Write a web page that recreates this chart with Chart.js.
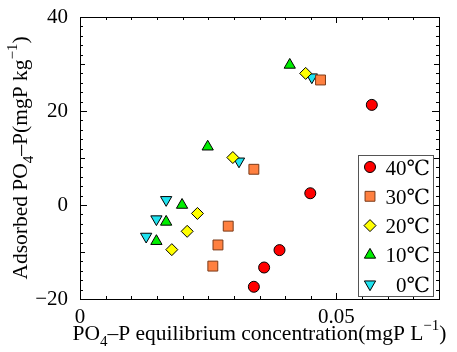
<!DOCTYPE html>
<html>
<head>
<meta charset="utf-8">
<script src="https://cdn.jsdelivr.net/npm/chart.js@4.4.0/dist/chart.umd.min.js"></script>
<style>
  html, body { margin:0; padding:0; background:#fff; }
  #wrap { width:457px; height:352px; }
</style>
</head>
<body>
<div id="wrap"><canvas id="chart"></canvas></div>
<script>
// data
const seriesNames = ['40℃', '30℃', '20℃', '10℃', '0℃'];
const x40 = [0.0339, 0.0359, 0.0389, 0.0449, 0.0569];
const y40 = [-17.4, -13.3, -9.6, 2.5, 21.3];
const x30 = [0.0259, 0.0269, 0.0289, 0.0339, 0.0469];
const y30 = [-13.0, -8.5, -4.5, 7.6, 26.6];
const x20 = [0.0179, 0.0209, 0.0229, 0.0298, 0.0440];
const y20 = [-9.5, -5.6, -1.8, 10.1, 28.0];
const x10 = [0.0149, 0.0168, 0.0199, 0.0249, 0.0409];
const y10 = [-7.7, -3.6, 0.0, 12.4, 29.8];
const x0 = [0.0129, 0.0149, 0.0168, 0.0310, 0.0452];
const y0 = [-6.7, -3.0, 1.1, 9.3, 27.2];
const xTickVals = [0, 0.05];
const yTickVals = [-20, 0, 20, 40];

const SERIF = "'Liberation Serif', 'DejaVu Serif', serif";
const DEG = "'DejaVu Serif', serif";

function pts(xs, ys){ return xs.map((x, i) => ({x, y: ys[i]})); }

const styles = [
  { pointStyle:'circle',   radius:5.5, rotation:0,   bg:'#ff0000', border:'#000000' },
  { pointStyle:'rect',     radius:7,   rotation:0,   bg:'#ff8040', border:'#7a3a18' },
  { pointStyle:'rectRot',  radius:6,   rotation:0,   bg:'#ffff00', border:'#000000' },
  { pointStyle:'triangle', radius:6.5, rotation:0,   bg:'#00ee00', border:'#000000' },
  { pointStyle:'triangle', radius:6.5, rotation:180, bg:'#1fe3f0', border:'#000000' }
];
const values = [[x40,y40],[x30,y30],[x20,y20],[x10,y10],[x0,y0]];

const datasets = seriesNames.map((name, i) => ({
  label: name,
  data: pts(values[i][0], values[i][1]),
  pointStyle: styles[i].pointStyle,
  pointRadius: styles[i].radius,
  pointRotation: styles[i].rotation,
  pointBackgroundColor: styles[i].bg,
  pointBorderColor: styles[i].border,
  pointBorderWidth: 1,
  showLine: false
}));

// frame + inward ticks on all four sides
const framePlugin = {
  id:'frame',
  afterDraw(chart){
    const {ctx, chartArea:a, scales:{x, y}} = chart;
    ctx.save();
    ctx.strokeStyle = '#000';
    ctx.lineWidth = 1;
    ctx.beginPath();
    for(let k = 0; k <= 14; k++){
      const v = k * 0.005;
      const px = Math.round(x.getPixelForValue(v)) + 0.5;
      const len = (k % 10 === 0) ? 6 : 3;
      ctx.moveTo(px, a.bottom); ctx.lineTo(px, a.bottom - len);
      ctx.moveTo(px, a.top); ctx.lineTo(px, a.top + len);
    }
    for(let v = -20; v <= 40; v += 2){
      const py = Math.round(y.getPixelForValue(v)) + 0.5;
      const len = (v % 20 === 0) ? 7 : (v % 10 === 0 ? 5 : 3);
      ctx.moveTo(a.left, py); ctx.lineTo(a.left + len, py);
      ctx.moveTo(a.right, py); ctx.lineTo(a.right - len, py);
    }
    ctx.stroke();
    ctx.strokeRect(Math.round(a.left) + 0.5, Math.round(a.top) + 0.5,
                   Math.round(a.right - a.left), Math.round(a.bottom - a.top));
    ctx.restore();
  }
};

// legend box inside the plot; the ℃ sign comes from DejaVu Serif
const legendPlugin = {
  id:'boxLegend',
  afterDraw(chart){
    const ctx = chart.ctx;
    const left = 358, top = 155, w = 75, h = 141, rowH = 29.3;
    ctx.save();
    ctx.fillStyle = '#fff';
    ctx.fillRect(left, top, w, h);
    ctx.strokeStyle = '#555';
    ctx.lineWidth = 1;
    ctx.strokeRect(left + 0.5, top + 0.5, w, h);
    ctx.textAlign = 'right';
    ctx.textBaseline = 'alphabetic';
    seriesNames.forEach((name, i) => {
      const cy = top + 12 + i * rowH;
      const s = styles[i];
      ctx.fillStyle = s.bg;
      ctx.strokeStyle = s.border;
      ctx.lineWidth = 1;
      Chart.helpers.drawPoint(ctx, {pointStyle:s.pointStyle, radius:s.radius, rotation:s.rotation, borderWidth:1}, left + 12, cy);
      ctx.fillStyle = '#000';
      const num = name.slice(0, -1), unit = name.slice(-1);
      const right = left + w - 3, base = cy + 7.5;
      ctx.font = '21px ' + DEG;
      const uw = ctx.measureText(unit).width;
      ctx.fillText(unit, right, base);
      ctx.font = '21px ' + SERIF;
      ctx.fillText(num, right - uw, base);
    });
    ctx.restore();
  }
};

// axis titles with sub/superscripts
function drawRich(ctx, parts, cx, cy, size){
  const small = Math.round(size * 0.68);
  let total = 0;
  parts.forEach(p => {
    ctx.font = (p.sub || p.sup ? small : size) + 'px ' + SERIF;
    p.w = ctx.measureText(p.t).width;
    total += p.w;
  });
  let x = cx - total / 2;
  ctx.textBaseline = 'alphabetic';
  ctx.textAlign = 'left';
  parts.forEach(p => {
    ctx.font = (p.sub || p.sup ? small : size) + 'px ' + SERIF;
    const dy = p.sub ? size * 0.3 : (p.sup ? -size * 0.45 : 0);
    ctx.fillText(p.t, x, cy + dy);
    x += p.w;
  });
}

const titlePlugin = {
  id:'titles',
  afterDraw(chart){
    const ctx = chart.ctx;
    ctx.save();
    ctx.fillStyle = '#000';
    drawRich(ctx, [
      {t:'PO'}, {t:'4', sub:true}, {t:'–P equilibrium concentration(mgP L'}, {t:'−1', sup:true}, {t:')'}
    ], 259.5, 340, 21.5);
    ctx.translate(27, 158);
    ctx.rotate(-Math.PI / 2);
    drawRich(ctx, [
      {t:'Adsorbed PO'}, {t:'4', sub:true}, {t:'–P(mgP kg'}, {t:'−1', sup:true}, {t:')'}
    ], 0, 0, 21.5);
    ctx.restore();
  }
};

function draw(){
  new Chart(document.getElementById('chart'), {
    type:'scatter',
    data:{ datasets },
    options:{
      responsive:true,
      maintainAspectRatio:false,
      animation:false,
      devicePixelRatio:1,
      layout:{ padding:{ top:17, right:18, left:0, bottom:0 } },
      plugins:{ legend:{ display:false }, tooltip:{ enabled:false } },
      scales:{
        x:{
          type:'linear', min:0, max:0.07,
          grid:{ display:false }, border:{ display:false },
          afterBuildTicks: s => { s.ticks = xTickVals.map(v => ({value:v})); },
          afterFit: s => { s.height = 53; },
          ticks:{ color:'#000', padding:-2, maxRotation:0, font:{ family:SERIF, size:21 },
            callback: v => v === 0 ? '0' : String(v) }
        },
        y:{
          type:'linear', min:-20, max:40,
          grid:{ display:false }, border:{ display:false },
          afterBuildTicks: s => { s.ticks = yTickVals.map(v => ({value:v})); },
          afterFit: s => { s.width = 80; },
          ticks:{ color:'#000', padding:4, font:{ family:SERIF, size:21 },
            callback: v => v < 0 ? '−' + Math.abs(v) : String(v) }
        }
      }
    },
    plugins:[framePlugin, legendPlugin, titlePlugin]
  });
}

Promise.all([
  document.fonts.load('20px "Liberation Serif"'),
  document.fonts.load('21px "DejaVu Serif"', '℃')
]).then(draw, draw);
</script>
</body>
</html>
